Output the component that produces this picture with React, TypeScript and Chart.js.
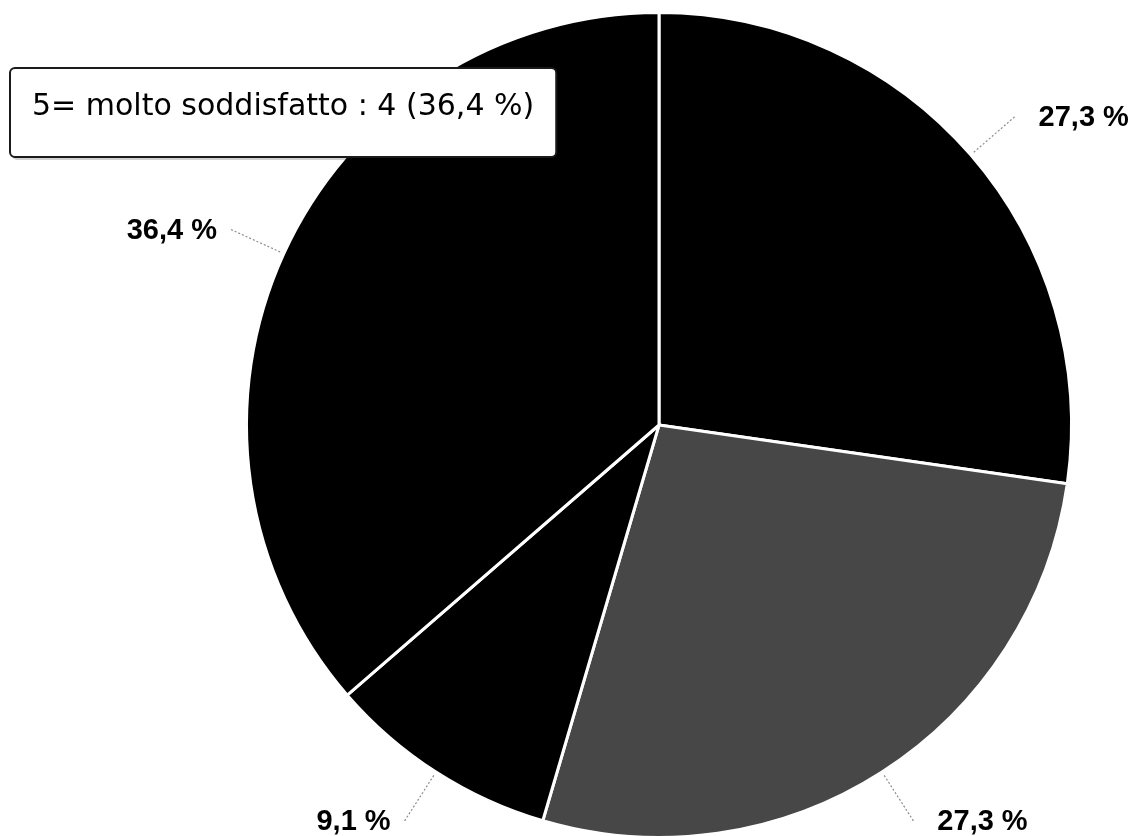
import React, { useEffect, useRef } from "react";
import { Chart, registerables } from "chart.js";

Chart.register(...registerables);

const categories = [
  "2= poco soddisfatto",
  "3= abbastanza soddisfatto",
  "4= soddisfatto",
  "5= molto soddisfatto",
];
const counts = [3, 3, 1, 4];
const sliceColors = ["#000000", "#474747", "#000000", "#000000"];
const tooltipIndex = 3;

const total = counts.reduce((a, b) => a + b, 0);
const pctText = (v: number) => ((v / total) * 100).toFixed(1).replace(".", ",") + " %";
const percentLabels = counts.map(pctText);
const tooltipText = `${categories[tooltipIndex]} : ${counts[tooltipIndex]} (${percentLabels[tooltipIndex]})`;

const W = 1147;
const H = 845;

const outerLabelsPlugin = {
  id: "outerLabels",
  afterDatasetsDraw(chart: any) {
    const ctx = chart.ctx as CanvasRenderingContext2D;
    const meta = chart.getDatasetMeta(0);
    meta.data.forEach((arc: any, i: number) => {
      const p = arc.getProps(["x", "y", "startAngle", "endAngle", "outerRadius"], true);
      const mid = (p.startAngle + p.endAngle) / 2;
      const c = Math.cos(mid);
      const s = Math.sin(mid);
      const r1 = p.outerRadius + 4;
      const r2 = p.outerRadius + 58;
      const x1 = p.x + c * r1;
      const y1 = p.y + s * r1;
      const x2 = p.x + c * r2;
      const y2 = p.y + s * r2;
      ctx.save();
      ctx.strokeStyle = "#8c8c8c";
      ctx.lineWidth = 1.2;
      ctx.setLineDash([2, 2]);
      ctx.beginPath();
      ctx.moveTo(x1, y1);
      ctx.lineTo(x2, y2);
      ctx.stroke();
      ctx.setLineDash([]);
      ctx.font = "bold 29px 'Liberation Sans', Arial, sans-serif";
      ctx.fillStyle = "#000000";
      ctx.textBaseline = "middle";
      const right = c >= 0;
      ctx.textAlign = right ? "left" : "right";
      ctx.fillText(percentLabels[i], x2 + (right ? 24 : -14), y2 + 1);
      ctx.restore();
    });
  },
  afterDraw(chart: any) {
    const ctx = chart.ctx as CanvasRenderingContext2D;
    ctx.save();
    ctx.font = "30px 'DejaVu Sans', Verdana, sans-serif";
    const tw = ctx.measureText(tooltipText).width;
    const bx = 10;
    const by = 68;
    const bh = 89;
    const bw = tw + 44;
    ctx.fillStyle = "rgba(0,0,0,0.18)";
    ctx.beginPath();
    ctx.roundRect(bx + 2, by + 3, bw, bh, 5);
    ctx.fill();
    ctx.fillStyle = "#ffffff";
    ctx.strokeStyle = "#1a1a1a";
    ctx.lineWidth = 2;
    ctx.beginPath();
    ctx.roundRect(bx, by, bw, bh, 5);
    ctx.fill();
    ctx.stroke();
    ctx.fillStyle = "#000000";
    ctx.textBaseline = "alphabetic";
    ctx.textAlign = "left";
    ctx.fillText(tooltipText, bx + 22, by + 47);
    ctx.restore();
  },
};

export default function App() {
  const ref = useRef<HTMLCanvasElement | null>(null);
  useEffect(() => {
    if (!ref.current) return;
    const chart = new Chart(ref.current, {
      type: "pie",
      data: {
        labels: categories,
        datasets: [
          {
            data: counts,
            backgroundColor: sliceColors,
            borderColor: "#ffffff",
            borderWidth: 3,
          },
        ],
      },
      options: {
        responsive: false,
        animation: false,
        events: [],
        layout: { padding: { left: 245, right: 74, top: 11, bottom: 6 } },
        plugins: {
          legend: { display: false },
          tooltip: { enabled: false },
        },
      },
      plugins: [outerLabelsPlugin],
    });
    return () => chart.destroy();
  }, []);
  return (
    <div
      style={{
        position: "absolute",
        left: 0,
        top: 0,
        width: W,
        height: 836,
        overflow: "hidden",
        background: "#ffffff",
      }}
    >
      <canvas ref={ref} width={W} height={H} style={{ display: "block" }} />
    </div>
  );
}
